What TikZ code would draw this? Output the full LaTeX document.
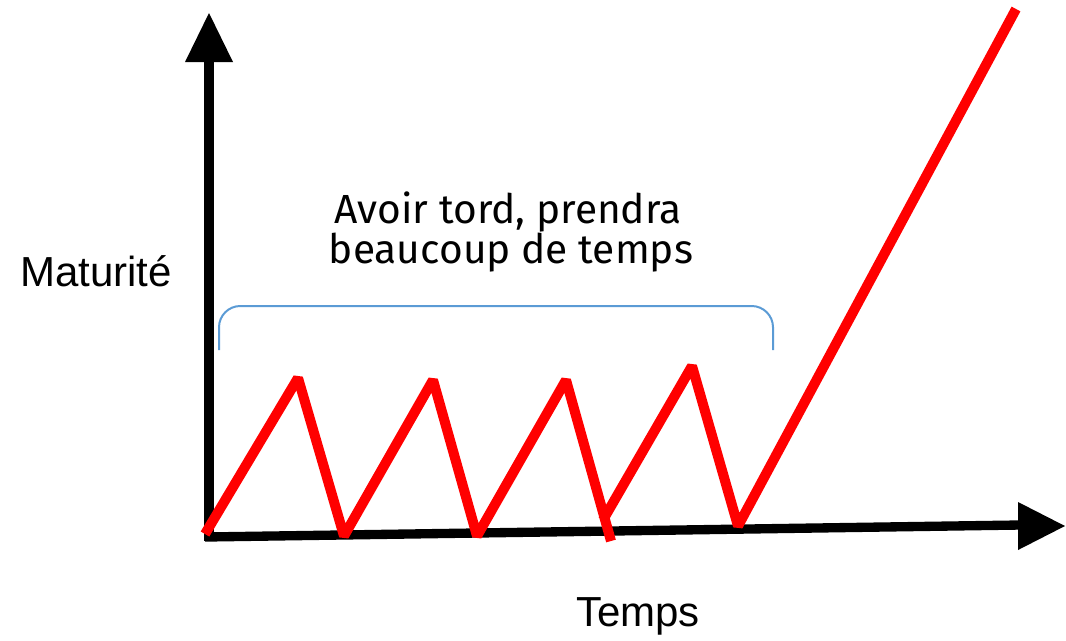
\documentclass[tikz,border=0pt]{standalone}
\usepackage{fontspec}
\setmainfont{Liberation Sans}
\newfontfamily\handfont{Fira Sans}
\definecolor{bracecol}{HTML}{5B9BD5}
\definecolor{curvered}{HTML}{FF0000}
\tikzset{
  axisline/.style={line width=7pt, black},
  arrowhead/.style={fill=black, draw=none},
  zigzag/.style={line width=7.5pt, curvered, line join=bevel},
  bracestyle/.style={line width=1.5pt, bracecol, rounded corners=16pt},
  axislabel/.style={font=\fontsize{31.5pt}{36pt}\selectfont, inner sep=0pt},
  handlabel/.style={font=\handfont\fontsize{30.5pt}{36pt}\selectfont, inner sep=0pt},
}
\begin{document}
\begin{tikzpicture}[x=0.75pt,y=-0.75pt]
\useasboundingbox (0,0) rectangle (1066,640);
% axes
\coordinate (origin) at (209,537);
\coordinate (ytop) at (209,60);
\coordinate (xend) at (1020,525);
\draw[axisline] (209,541) -- (ytop);
\fill[arrowhead] (209,13) -- (233,62) -- (185,62) -- cycle;
\draw[axisline] (205,537) -- (xend);
\fill[arrowhead] (1065,526) -- (1018,550) -- (1018,502) -- cycle;
% zigzag
\draw[zigzag] (205,534) -- (298,378) -- (344,536) -- (433,380) -- (477,536) -- (566,380) -- (611,541);
\draw[zigzag] (603,520) -- (692,366) -- (738,526) -- (1016,9);
% brace
\draw[bracestyle] (219,350) -- (219,306) -- (773,306) -- (773,350);
% labels
\node[axislabel] (maturite) at (96,271) {Maturité};
\node[axislabel] (temps) at (638,616) {Temps};
\node[handlabel] (line1) at (508,212) {Avoir tord, prendra};
\node[handlabel] (line2) at (511,253) {beaucoup de temps};
\end{tikzpicture}
\end{document}
